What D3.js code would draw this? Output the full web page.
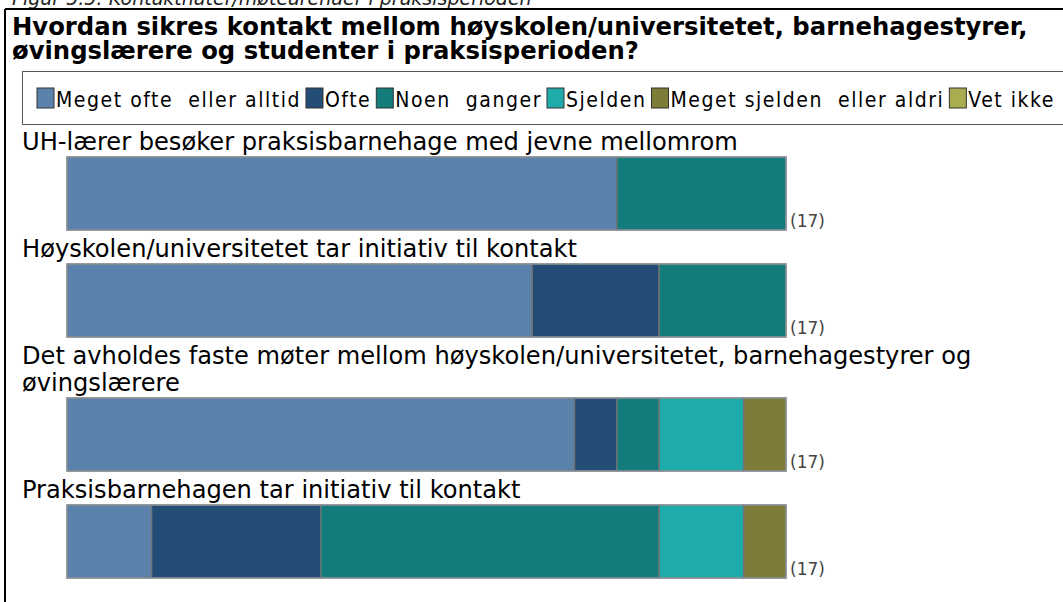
<!DOCTYPE html>
<html>
<head>
<meta charset="utf-8">
<script src="https://cdn.jsdelivr.net/npm/d3@7"></script>
<style>
  body { margin: 0; background: #fff; }
  svg { display: block; }
  text { white-space: pre; }
</style>
</head>
<body>
<svg id="chart"></svg>
<script>
// answer categories (legend order) and their colours
let categories = ['Meget ofte  eller alltid', 'Ofte', 'Noen  ganger', 'Sjelden', 'Meget sjelden  eller aldri', 'Vet ikke'];
let colors = ['#5b82aa', '#234c77', '#127d7a', '#20abab', '#7e7d38', '#abab4f'];

// one entry per question, label split in lines as in the original
let questions = [
  ['UH-lærer besøker praksisbarnehage med jevne mellomrom'],
  ['Høyskolen/universitetet tar initiativ til kontakt'],
  ['Det avholdes faste møter mellom høyskolen/universitetet, barnehagestyrer og', 'øvingslærere'],
  ['Praksisbarnehagen tar initiativ til kontakt']
];

// number of answers per category, same order as categories
let counts = [
  [13, 0, 4, 0, 0, 0],
  [11, 3, 3, 0, 0, 0],
  [12, 1, 1, 2, 1, 0],
  [2, 4, 8, 2, 1, 0]
];
let totals = ['(17)', '(17)', '(17)', '(17)'];

let caption = 'Figur 5.5: Kontaktnater/møtearenaer i praksisperioden';
let titleLines = [
  'Hvordan sikres kontakt mellom høyskolen/universitetet, barnehagestyrer,',
  'øvingslærere og studenter i praksisperioden?'
];

let config = {
  width: 1063,
  height: 602,
  frame: { x: 5, y: 9 },
  legend: { x: 22, y: 71, height: 53 },
  bars: { left: 67, right: 786, height: 73, gap: 7 },
  lineHeight: 27
};

let svg = d3.select('#chart')
  .attr('width', config.width)
  .attr('height', config.height);

// scale the font so the text gets the width it has in the picture
function fitWidth(sel, target) {
  let w = sel.node().getComputedTextLength();
  let fs = parseFloat(sel.attr('font-size'));
  let size = fs * target / w;
  sel.attr('font-size', size);
  return size;
}

// caption of the figure, cut off at the top
svg.append('text')
  .attr('x', 12)
  .attr('y', 5)
  .attr('font-family', 'DejaVu Sans')
  .attr('font-style', 'italic')
  .attr('font-size', 19)
  .attr('fill', '#222')
  .text(caption);

svg.append('rect')
  .attr('x', 0).attr('y', config.frame.y)
  .attr('width', config.width).attr('height', config.height)
  .attr('fill', '#fff');

// frame: top and left border
svg.append('line')
  .attr('x1', config.frame.x).attr('x2', config.width)
  .attr('y1', config.frame.y).attr('y2', config.frame.y)
  .attr('stroke', '#000').attr('stroke-width', 2);
svg.append('line')
  .attr('x1', config.frame.x).attr('x2', config.frame.x)
  .attr('y1', config.frame.y).attr('y2', config.height)
  .attr('stroke', '#000').attr('stroke-width', 2);

// title
let title = svg.append('g').attr('id', 'title');
let tl = title.selectAll('text')
  .data(titleLines)
  .enter().append('text')
  .attr('x', 12)
  .attr('y', (d, i) => 35 + i * 24)
  .attr('font-family', 'DejaVu Sans')
  .attr('font-weight', 'bold')
  .attr('font-size', 20)
  .attr('fill', '#000')
  .text(d => d);
let titleSize = fitWidth(d3.select(tl.nodes()[0]), 1016);
tl.attr('font-size', titleSize);

// legend
let lg = config.legend;
let legend = svg.append('g').attr('id', 'legend');
legend.append('rect')
  .attr('x', lg.x + 0.5).attr('y', lg.y + 0.5)
  .attr('width', config.width).attr('height', lg.height)
  .attr('fill', '#fff')
  .attr('stroke', '#555');

let items = legend.selectAll('g.item')
  .data(categories)
  .enter().append('g')
  .attr('class', 'item');
items.append('rect')
  .attr('width', 17).attr('height', 20)
  .attr('y', 88)
  .attr('fill', (d, i) => colors[i])
  .attr('stroke', '#333');
let ltext = items.append('text')
  .attr('y', 107)
  .attr('font-family', 'DejaVu Sans Condensed, sans-serif')
  .attr('font-size', 21)
  .attr('fill', '#000')
  .text(d => d);

// spread the legend over the whole box with letter spacing
let natural = ltext.nodes().map(n => n.getComputedTextLength());
let chars = d3.sum(categories, d => d.length);
let fixed = categories.length * 19 + (categories.length - 1) * 5;
let spacing = (1055 - 37 - fixed - d3.sum(natural)) / chars;
ltext.attr('letter-spacing', spacing);
let lx = 37;
items.each(function(d, i) {
  let g = d3.select(this);
  g.select('rect').attr('x', lx);
  g.select('text').attr('x', lx + 19);
  lx += 19 + natural[i] + spacing * d.length + 5;
});

// bars
let x = d3.scaleLinear()
  .domain([0, d3.sum(counts[0])])
  .range([config.bars.left, config.bars.right]);

let plot = svg.append('g').attr('id', 'plot');
let cursor = lg.y + lg.height - 1;
let labelSize = null;

questions.forEach(function(lines, qi) {
  let block = plot.append('g').attr('class', 'question');
  lines.forEach(function(line) {
    cursor += config.lineHeight;
    block.append('text')
      .attr('class', 'label')
      .attr('x', 22)
      .attr('y', cursor)
      .attr('font-family', 'DejaVu Sans')
      .attr('font-size', labelSize || 21)
      .attr('fill', '#000')
      .text(line);
  });
  if (labelSize === null) {
    labelSize = fitWidth(block.select('text.label'), 716);
  }

  let top = cursor + config.bars.gap;
  let h = config.bars.height;

  // stack the counts
  let starts = d3.cumsum([0].concat(counts[qi]));
  let segs = counts[qi].map((c, k) => ({ k: k, x0: starts[k], x1: starts[k] + c }))
    .filter(s => s.x1 > s.x0);

  block.selectAll('rect.seg')
    .data(segs)
    .enter().append('rect')
    .attr('class', 'seg')
    .attr('x', d => x(d.x0))
    .attr('y', top)
    .attr('width', d => x(d.x1) - x(d.x0))
    .attr('height', h)
    .attr('fill', d => colors[d.k])
    .attr('stroke', '#6e7378')
    .attr('stroke-width', 1.5);

  block.append('rect')
    .attr('x', x(0)).attr('y', top)
    .attr('width', x(d3.sum(counts[qi])) - x(0)).attr('height', h)
    .attr('fill', 'none')
    .attr('stroke', '#9aa0a6')
    .attr('stroke-width', 1);

  block.append('text')
    .attr('x', x(d3.sum(counts[qi])) + 4)
    .attr('y', top + h - 3)
    .attr('font-family', 'DejaVu Sans')
    .attr('font-size', 17)
    .attr('fill', '#444')
    .text(totals[qi]);

  cursor = top + h;
});

plot.selectAll('text.label').attr('font-size', labelSize);
</script>
</body>
</html>
